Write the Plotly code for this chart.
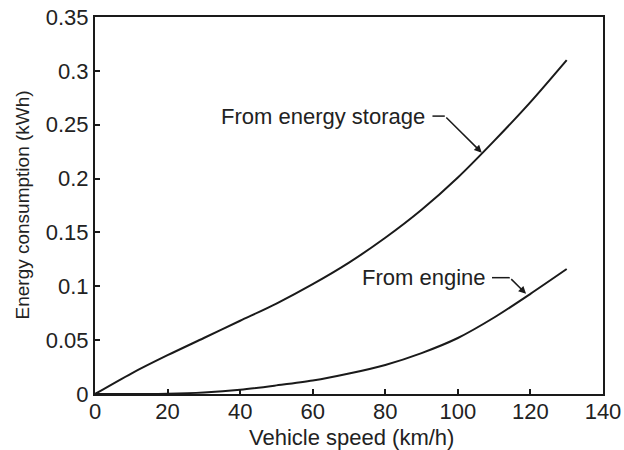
import plotly.graph_objects as go

speed = [0, 10, 20, 30, 40, 50, 60, 70, 80, 90, 100, 110, 120, 130]
from_storage = [0, 0.019, 0.036, 0.052, 0.068, 0.084, 0.102, 0.122, 0.145, 0.171, 0.201, 0.235, 0.271, 0.310]
from_engine = [0, 0.0, 0.0003, 0.0015, 0.004, 0.008, 0.0125, 0.019, 0.027, 0.038, 0.052, 0.071, 0.093, 0.116]

x_ticks = [0, 20, 40, 60, 80, 100, 120, 140]
y_ticks = [0, 0.05, 0.1, 0.15, 0.2, 0.25, 0.3, 0.35]
y_tick_labels = ["0", "0.05", "0.1", "0.15", "0.2", "0.25", "0.3", "0.35"]
x_title = "Vehicle speed (km/h)"
y_title = "Energy consumption (kWh)"

FONT = "Liberation Sans, Arial, sans-serif"
INK = "#1a1a1a"

fig = go.Figure()
fig.add_trace(go.Scatter(x=speed, y=from_storage, mode="lines",
                         line=dict(color=INK, width=2, shape="spline", smoothing=0.8),
                         name="From energy storage", cliponaxis=False))
fig.add_trace(go.Scatter(x=speed, y=from_engine, mode="lines",
                         line=dict(color=INK, width=2, shape="spline", smoothing=0.8),
                         name="From engine", cliponaxis=False))

# labels with kinked leader lines
labels = [
    ("From energy storage", 91.5, 0.258, 93.0, 96.4, 106.6, 0.224),
    ("From engine", 108.2, 0.108, 109.4, 114.3, 118.8, 0.093),
]
for text, tx, ty, lx0, lx1, px, py in labels:
    fig.add_annotation(x=tx, y=ty, text=text, showarrow=False, xanchor="right", yanchor="middle",
                       font=dict(family=FONT, size=22, color="#222"))
    fig.add_shape(type="line", x0=lx0, x1=lx1, y0=ty, y1=ty, line=dict(color=INK, width=1.5))
    fig.add_annotation(x=px, y=py, ax=lx1, ay=ty, axref="x", ayref="y", text="", showarrow=True,
                       arrowhead=2, arrowsize=1, arrowwidth=1.5, arrowcolor=INK, standoff=0)

# axis titles
fig.add_annotation(x=0.505, y=0, xref="paper", yref="paper", yshift=-43, text=x_title, showarrow=False,
                   xanchor="center", yanchor="middle", font=dict(family=FONT, size=22, color="#222"))
fig.add_annotation(x=0, y=0.5, xref="paper", yref="paper", xshift=-73, text=y_title, showarrow=False,
                   textangle=-90, xanchor="center", yanchor="middle",
                   font=dict(family="Liberation Sans Narrow, Liberation Sans, sans-serif", size=19, color="#222"))

fig.update_layout(
    width=624, height=450,
    margin=dict(l=95, r=21, t=17, b=56),
    paper_bgcolor="white", plot_bgcolor="white",
    showlegend=False,
    font=dict(family=FONT, size=22, color="#222"),
)
fig.update_xaxes(range=[0, 140], tickvals=x_ticks, ticks="inside", ticklen=5, tickwidth=1.5, tickcolor=INK,
                 showline=True, linecolor=INK, linewidth=2, mirror=True, showgrid=False, zeroline=False,
                 automargin=False, tickfont=dict(size=22), ticklabelstandoff=-3, ticklabeloverflow="allow")
fig.update_yaxes(range=[0, 0.35], tickvals=y_ticks, ticktext=y_tick_labels, ticks="inside", ticklen=5,
                 tickwidth=1.5, tickcolor=INK,
                 showline=True, linecolor=INK, linewidth=2, mirror=True, showgrid=False, zeroline=False,
                 automargin=False, tickfont=dict(size=22), ticklabelstandoff=0, ticklabeloverflow="allow")

# remove the browser's default page margin so the 624x450 figure fills the window exactly
fig.write_html("out.html", config={"displayModeBar": False},
               post_script="document.body.style.margin='0';document.body.style.overflow='hidden';")
